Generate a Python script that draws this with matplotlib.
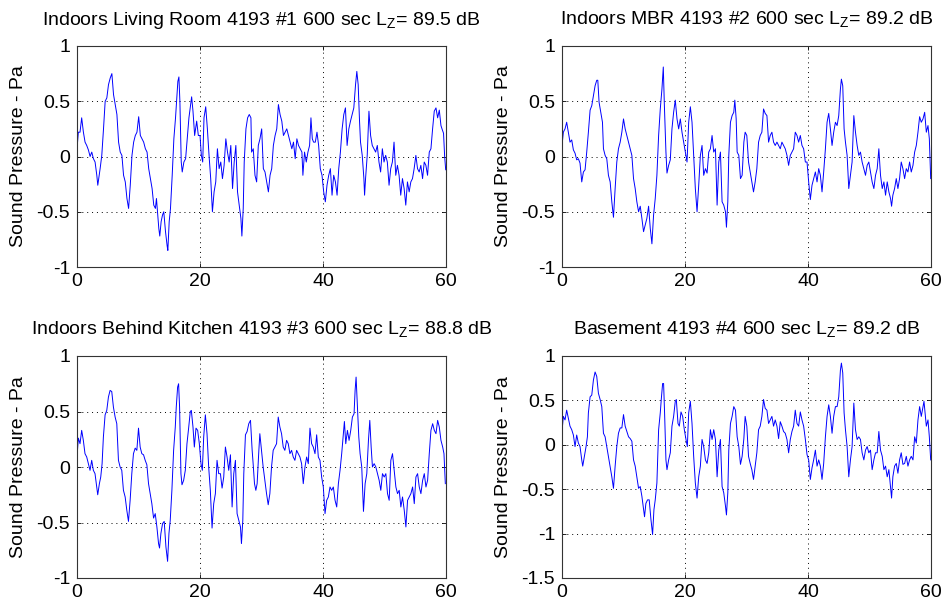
import matplotlib
matplotlib.use('Agg')
import matplotlib.pyplot as plt

plt.rcParams['font.family'] = ['Liberation Sans', 'DejaVu Sans']
plt.rcParams['axes.unicode_minus'] = False
plt.rcParams['mathtext.fontset'] = 'custom'
plt.rcParams['mathtext.rm'] = 'Liberation Sans'

# 标题
titles = [
    r'Indoors Living Room 4193 #1 600 sec L$_\mathregular{Z}$= 89.5 dB',
    r'Indoors MBR 4193 #2 600 sec L$_\mathregular{Z}$= 89.2 dB',
    r'Indoors Behind Kitchen 4193 #3 600 sec L$_\mathregular{Z}$= 88.8 dB',
    r'Basement 4193 #4 600 sec L$_\mathregular{Z}$= 89.2 dB',
]

# 面板1 数据 (时间 s, 声压 Pa), 读自原图
t1 = [0.00, 0.22, 0.49, 0.76, 1.04, 1.31, 1.58, 1.85, 2.13, 2.40, 2.67, 2.94, 3.22, 3.38, 3.76, 4.03,
      4.31, 4.58, 4.85, 5.12, 5.40, 5.67, 5.94, 6.21, 6.49, 6.76, 7.03, 7.30, 7.57, 7.85, 8.12, 8.39,
      8.66, 8.94, 9.21, 9.48, 9.75, 10.03, 10.30, 10.57, 10.84, 11.12, 11.39, 11.66, 11.93, 12.21,
      12.48, 12.75, 12.92, 13.13, 13.30, 13.46, 13.68, 13.90, 14.11, 14.39, 14.66, 14.77, 14.99,
      15.20, 15.48, 15.75, 16.02, 16.19, 16.40, 16.57, 16.73, 16.95, 17.11, 17.38, 17.66, 17.93,
      18.20, 18.47, 18.64, 18.86, 19.13, 19.46, 19.73, 20.00, 20.22, 20.44, 20.65, 20.93, 21.20,
      21.47, 21.74, 22.02, 22.29, 22.56, 22.83, 23.11, 23.38, 23.65, 23.92, 24.20, 24.47, 24.74,
      25.01, 25.29, 25.56, 25.83, 26.10, 26.38, 26.65, 26.81, 27.03, 27.19, 27.47, 27.74, 28.01,
      28.28, 28.39, 28.66, 28.94, 29.21, 29.48, 29.75, 30.03, 30.30, 30.57, 30.84, 31.12, 31.39,
      31.66, 31.93, 32.21, 32.48, 32.75, 33.02, 33.30, 33.57, 33.84, 34.11, 34.39, 34.66, 34.93,
      35.20, 35.48, 35.75, 36.02, 36.29, 36.57, 36.73, 37.00, 37.28, 37.55, 37.82, 38.04, 38.26,
      38.47, 38.75, 39.02, 39.29, 39.56, 39.84, 40.11, 40.38, 40.65, 40.93, 41.20, 41.47, 41.74,
      42.02, 42.29, 42.56, 42.83, 43.11, 43.38, 43.65, 43.92, 44.20, 44.47, 44.74, 45.01, 45.29,
      45.50, 45.72, 45.94, 46.10, 46.38, 46.65, 46.76, 46.92, 47.19, 47.47, 47.74, 48.01, 48.28,
      48.56, 48.83, 49.10, 49.37, 49.65, 49.92, 50.19, 50.46, 50.74, 51.01, 51.28, 51.55, 51.83,
      52.10, 52.37, 52.64, 52.92, 53.19, 53.46, 53.73, 54.01, 54.28, 54.55, 54.82, 55.10, 55.37,
      55.64, 55.91, 56.19, 56.46, 56.73, 57.00, 57.28, 57.55, 57.82, 58.09, 58.37, 58.64, 58.91,
      59.18, 59.35, 59.60, 59.78, 59.95]
p1 = [0.07, 0.22, 0.22, 0.35, 0.22, 0.13, 0.10, 0.06, 0.00, 0.04, -0.02, -0.05, -0.17, -0.26, -0.11, 0.01,
      0.25, 0.50, 0.53, 0.65, 0.71, 0.75, 0.56, 0.47, 0.38, 0.13, 0.04, 0.01, -0.17, -0.23, -0.38, -0.47,
      -0.26, 0.01, 0.13, 0.19, 0.22, 0.36, 0.19, 0.16, 0.13, 0.07, 0.04, -0.11, -0.20, -0.29,
      -0.44, -0.47, -0.38, -0.53, -0.65, -0.72, -0.59, -0.53, -0.50, -0.68, -0.81, -0.85, -0.59,
      -0.47, -0.17, 0.16, 0.35, 0.50, 0.68, 0.72, 0.50, -0.05, -0.14, -0.05, -0.02, 0.16,
      0.35, 0.47, 0.54, 0.41, 0.19, 0.32, 0.19, 0.19, 0.01, -0.05, 0.35, 0.45, 0.25,
      0.01, -0.20, -0.50, -0.32, -0.23, 0.07, -0.11, -0.05, -0.20, -0.08, 0.16, 0.04, -0.05,
      0.10, -0.29, -0.05, 0.10, -0.32, -0.44, -0.56, -0.72, -0.47, -0.05, 0.25, 0.35, 0.38,
      0.35, 0.04, 0.07, -0.17, -0.23, 0.10, 0.16, 0.25, -0.11, -0.14, -0.23, -0.32, -0.17,
      -0.11, 0.10, 0.19, 0.25, 0.47, 0.38, 0.32, 0.19, 0.22, 0.25, 0.19, 0.13, 0.07,
      0.13, -0.02, 0.16, 0.10, 0.07, 0.04, -0.17, 0.04, -0.05, 0.04, 0.10, 0.35, 0.16,
      0.13, 0.13, 0.22, 0.10, -0.11, -0.17, -0.32, -0.41, -0.26, -0.17, -0.11, -0.35, -0.17,
      -0.23, -0.35, -0.11, 0.04, 0.25, 0.38, 0.44, 0.10, 0.25, 0.32, 0.38, 0.44, 0.65,
      0.77, 0.65, 0.32, 0.13, 0.01, -0.20, -0.35, -0.20, 0.01, 0.41, 0.19, 0.10, 0.07,
      0.04, 0.10, -0.05, -0.14, 0.07, -0.05, 0.01, -0.05, -0.26, -0.11, -0.05, 0.13, -0.17,
      -0.08, -0.17, -0.35, -0.20, -0.29, -0.44, -0.23, -0.32, -0.23, -0.20, -0.11, 0.01, -0.11,
      -0.14, -0.08, -0.20, -0.05, -0.08, -0.17, 0.04, 0.07, 0.25, 0.41, 0.44, 0.35, 0.42,
      0.28, 0.25, 0.21, 0.00, -0.12]

# 面板2 数据
t2 = [0.00, 0.22, 0.49, 0.76, 1.03, 1.30, 1.58, 1.85, 2.12, 2.39, 2.66, 2.93, 3.21, 3.48, 3.75, 4.02,
      4.29, 4.57, 4.84, 5.11, 5.38, 5.65, 5.82, 6.03, 6.30, 6.58, 6.74, 7.01, 7.28, 7.55, 7.83, 8.10,
      8.37, 8.64, 8.91, 9.18, 9.46, 9.73, 10.00, 10.27, 10.54, 10.82, 11.09, 11.36, 11.63, 11.90,
      12.17, 12.45, 12.72, 12.99, 13.26, 13.53, 13.80, 14.08, 14.35, 14.62, 14.89, 15.16, 15.43,
      15.71, 15.98, 16.25, 16.47, 16.63, 16.90, 17.07, 17.34, 17.61, 17.88, 18.15, 18.42, 18.70,
      18.97, 19.24, 19.51, 19.78, 20.05, 20.33, 20.60, 20.87, 21.14, 21.41, 21.68, 21.96, 22.23,
      22.50, 22.77, 23.04, 23.32, 23.59, 23.86, 24.13, 24.40, 24.67, 24.95, 25.22, 25.49, 25.76,
      26.03, 26.30, 26.58, 26.74, 26.96, 27.12, 27.39, 27.66, 27.93, 28.10, 28.32, 28.48, 28.75,
      29.02, 29.29, 29.57, 29.78, 30.05, 30.33, 30.60, 30.87, 31.14, 31.41, 31.68, 31.96, 32.23,
      32.50, 32.77, 33.04, 33.32, 33.59, 33.86, 34.13, 34.40, 34.67, 34.95, 35.22, 35.49, 35.76,
      36.03, 36.30, 36.58, 36.85, 37.12, 37.39, 37.66, 37.93, 38.21, 38.48, 38.75, 39.02, 39.29,
      39.57, 39.84, 40.11, 40.38, 40.65, 40.92, 41.20, 41.47, 41.74, 42.01, 42.28, 42.55, 42.83,
      43.10, 43.37, 43.64, 43.91, 44.18, 44.46, 44.73, 45.00, 45.27, 45.43, 45.65, 45.87, 46.09,
      46.36, 46.63, 46.90, 47.17, 47.45, 47.72, 47.99, 48.26, 48.53, 48.80, 49.08, 49.35, 49.62,
      49.89, 50.16, 50.43, 50.71, 50.98, 51.25, 51.52, 51.79, 52.07, 52.34, 52.61, 52.88, 53.15,
      53.42, 53.59, 53.80, 54.08, 54.35, 54.62, 54.89, 55.16, 55.43, 55.71, 55.98, 56.25, 56.52,
      56.79, 57.07, 57.34, 57.61, 57.88, 58.15, 58.42, 58.70, 58.97, 59.24, 59.51, 59.73, 59.95]
p2 = [0.10, 0.22, 0.25, 0.31, 0.22, 0.13, 0.15, 0.06, 0.03, -0.03, -0.02, -0.06, -0.23, -0.14, -0.12, 0.04,
      0.22, 0.42, 0.46, 0.55, 0.64, 0.69, 0.69, 0.49, 0.40, 0.31, 0.07, 0.01, -0.02, -0.17, -0.23, -0.41,
      -0.55, -0.29, -0.05, 0.07, 0.13, 0.22, 0.34, 0.25, 0.19, 0.13, 0.07, 0.01, -0.20, -0.29,
      -0.41, -0.50, -0.45, -0.56, -0.68, -0.62, -0.56, -0.45, -0.65, -0.79, -0.53, -0.38, -0.17,
      0.19, 0.43, 0.61, 0.81, 0.49, 0.04, -0.15, -0.08, -0.03, 0.25, 0.40, 0.51, 0.34,
      0.25, 0.34, 0.22, 0.13, 0.04, -0.05, 0.31, 0.45, 0.31, 0.01, -0.29, -0.50, -0.26,
      0.01, 0.10, -0.17, -0.11, -0.15, 0.04, 0.07, 0.19, 0.04, 0.07, -0.44, -0.05, 0.04,
      -0.41, -0.44, -0.50, -0.64, -0.41, 0.01, 0.31, 0.37, 0.40, 0.51, 0.34, 0.04, 0.01,
      -0.20, -0.17, 0.13, 0.22, 0.19, -0.05, -0.14, -0.23, -0.32, -0.23, -0.11, 0.13, 0.19,
      0.22, 0.43, 0.39, 0.37, 0.13, 0.19, 0.22, 0.13, 0.10, 0.13, 0.10, 0.07, 0.13,
      0.10, 0.07, 0.01, -0.08, 0.01, 0.04, 0.07, 0.22, 0.19, 0.13, 0.19, 0.10, 0.07,
      -0.05, -0.05, -0.23, -0.39, -0.26, -0.20, -0.14, -0.23, -0.11, -0.17, -0.32, -0.14, 0.07,
      0.31, 0.39, 0.25, 0.10, 0.22, 0.31, 0.28, 0.37, 0.61, 0.70, 0.64, 0.25, 0.13,
      0.01, -0.29, -0.17, -0.05, 0.37, 0.22, 0.10, 0.01, 0.04, -0.05, -0.11, -0.17, -0.08,
      -0.05, -0.14, -0.23, -0.29, -0.17, -0.11, 0.07, -0.17, -0.29, -0.23, -0.35, -0.23, -0.32,
      -0.38, -0.45, -0.35, -0.29, -0.20, -0.29, -0.20, -0.05, -0.11, -0.20, -0.11, -0.14, -0.05,
      -0.14, -0.08, 0.04, 0.10, 0.22, 0.36, 0.31, 0.34, 0.40, 0.22, 0.28, 0.16, -0.20]

# 面板3 数据
t3 = [0.00, 0.22, 0.49, 0.76, 1.03, 1.30, 1.58, 1.85, 2.12, 2.39, 2.66, 2.93, 3.21, 3.37, 3.64, 3.86,
      4.08, 4.29, 4.57, 4.84, 5.11, 5.38, 5.65, 5.92, 6.20, 6.47, 6.74, 7.01, 7.28, 7.55, 7.83, 8.10,
      8.37, 8.64, 8.91, 9.18, 9.46, 9.73, 10.00, 10.27, 10.54, 10.82, 11.09, 11.36, 11.63, 11.90,
      12.17, 12.45, 12.72, 12.99, 13.26, 13.42, 13.64, 13.91, 14.18, 14.46, 14.73, 14.95, 15.16,
      15.43, 15.71, 15.98, 16.14, 16.36, 16.52, 16.68, 16.90, 17.07, 17.34, 17.61, 17.88, 18.15,
      18.42, 18.59, 18.86, 19.08, 19.35, 19.62, 19.89, 20.16, 20.38, 20.60, 20.87, 21.14, 21.41,
      21.68, 21.96, 22.23, 22.50, 22.77, 23.04, 23.32, 23.59, 23.86, 24.13, 24.40, 24.67, 24.95,
      25.22, 25.49, 25.76, 26.03, 26.30, 26.58, 26.74, 26.96, 27.12, 27.39, 27.66, 27.93, 28.21,
      28.48, 28.64, 28.86, 29.08, 29.29, 29.57, 29.73, 30.00, 30.27, 30.54, 30.82, 31.09, 31.36,
      31.63, 31.90, 32.17, 32.45, 32.72, 32.99, 33.26, 33.53, 33.80, 34.08, 34.35, 34.62, 34.89,
      35.16, 35.43, 35.71, 35.98, 36.25, 36.52, 36.79, 37.07, 37.34, 37.61, 37.88, 38.15, 38.42,
      38.70, 38.97, 39.24, 39.51, 39.78, 40.05, 40.33, 40.60, 40.87, 41.14, 41.41, 41.68, 41.96,
      42.23, 42.50, 42.77, 43.04, 43.32, 43.48, 43.70, 43.97, 44.24, 44.51, 44.78, 45.05, 45.22,
      45.38, 45.60, 45.82, 46.03, 46.30, 46.58, 46.85, 47.12, 47.39, 47.61, 47.83, 48.04, 48.32,
      48.59, 48.86, 49.13, 49.40, 49.67, 49.95, 50.22, 50.49, 50.76, 51.03, 51.30, 51.58, 51.85,
      52.12, 52.39, 52.66, 52.93, 53.21, 53.48, 53.75, 54.02, 54.29, 54.57, 54.84, 55.11, 55.38,
      55.65, 55.92, 56.20, 56.47, 56.74, 57.01, 57.28, 57.55, 57.83, 58.10, 58.37, 58.64, 58.91,
      59.18, 59.46, 59.67, 59.89]
p3 = [0.09, 0.26, 0.21, 0.33, 0.24, 0.12, 0.09, 0.03, -0.03, 0.06, -0.03, -0.06, -0.18, -0.25, -0.15, -0.09,
      0.03, 0.27, 0.47, 0.51, 0.63, 0.69, 0.68, 0.54, 0.45, 0.39, 0.06, 0.00, -0.03, -0.21, -0.27, -0.39,
      -0.49, -0.30, -0.06, 0.12, 0.17, 0.15, 0.35, 0.18, 0.12, 0.11, 0.06, 0.02, -0.15, -0.24,
      -0.33, -0.46, -0.42, -0.54, -0.69, -0.73, -0.60, -0.51, -0.49, -0.72, -0.85, -0.60, -0.48,
      -0.21, 0.15, 0.36, 0.54, 0.72, 0.75, 0.54, -0.06, -0.16, -0.12, -0.03, 0.21, 0.35,
      0.50, 0.51, 0.36, 0.18, 0.35, 0.33, 0.21, 0.03, -0.03, 0.27, 0.47, 0.30, 0.00,
      -0.21, -0.55, -0.33, -0.24, 0.06, -0.06, -0.06, -0.19, -0.09, 0.18, 0.09, -0.03, 0.11,
      -0.36, -0.06, 0.06, -0.42, -0.48, -0.54, -0.69, -0.48, -0.06, 0.29, 0.32, 0.39, 0.42,
      0.15, 0.03, -0.15, -0.21, -0.15, 0.15, 0.30, 0.15, 0.00, -0.12, -0.24, -0.34, -0.24,
      0.00, 0.15, 0.18, 0.21, 0.45, 0.36, 0.30, 0.18, 0.15, 0.24, 0.21, 0.12, 0.15,
      0.09, 0.06, 0.15, 0.12, 0.09, 0.03, -0.15, 0.00, 0.09, 0.03, 0.35, 0.21, 0.18,
      0.12, 0.29, 0.09, 0.06, -0.09, -0.18, -0.42, -0.30, -0.27, -0.18, -0.21, -0.18, -0.30,
      -0.36, -0.15, -0.03, 0.12, 0.30, 0.41, 0.21, 0.33, 0.24, 0.33, 0.45, 0.48, 0.69,
      0.81, 0.54, 0.27, 0.12, 0.00, -0.40, -0.15, -0.06, 0.24, 0.42, 0.18, 0.00, 0.03,
      0.00, -0.06, -0.12, -0.21, -0.06, -0.09, -0.06, -0.24, -0.30, 0.06, 0.12, -0.03, -0.18,
      -0.24, -0.21, -0.36, -0.27, -0.39, -0.54, -0.30, -0.27, -0.24, -0.18, -0.33, -0.09, -0.06,
      -0.18, -0.24, -0.12, -0.06, -0.18, -0.12, 0.12, 0.33, 0.39, 0.33, 0.30, 0.42, 0.36,
      0.24, 0.18, 0.12, -0.15]

# 面板4 数据
t4 = [0.00, 0.22, 0.49, 0.76, 1.03, 1.30, 1.58, 1.85, 2.12, 2.39, 2.66, 2.93, 3.21, 3.37, 3.64, 3.91,
      4.13, 4.29, 4.57, 4.84, 5.11, 5.38, 5.65, 5.92, 6.20, 6.47, 6.74, 7.01, 7.28, 7.55, 7.83, 8.10,
      8.37, 8.64, 8.91, 9.18, 9.46, 9.73, 10.00, 10.27, 10.54, 10.82, 11.09, 11.36, 11.63, 11.90,
      12.17, 12.45, 12.72, 12.99, 13.26, 13.42, 13.64, 13.91, 14.18, 14.46, 14.73, 14.95, 15.16,
      15.43, 15.71, 15.98, 16.14, 16.36, 16.52, 16.68, 16.90, 17.07, 17.34, 17.61, 17.88, 18.15,
      18.42, 18.59, 18.86, 19.08, 19.35, 19.62, 19.89, 20.16, 20.38, 20.60, 20.87, 21.14, 21.41,
      21.68, 21.96, 22.23, 22.50, 22.77, 23.04, 23.32, 23.59, 23.86, 24.13, 24.40, 24.67, 24.95,
      25.22, 25.49, 25.76, 26.03, 26.30, 26.58, 26.74, 26.96, 27.12, 27.39, 27.66, 27.93, 28.21,
      28.48, 28.75, 29.02, 29.29, 29.57, 29.78, 30.05, 30.33, 30.60, 30.87, 31.14, 31.41, 31.68,
      31.96, 32.23, 32.50, 32.77, 33.04, 33.32, 33.59, 33.86, 34.13, 34.40, 34.67, 34.95, 35.22,
      35.49, 35.76, 36.03, 36.30, 36.58, 36.85, 37.12, 37.39, 37.66, 37.93, 38.21, 38.48, 38.75,
      39.02, 39.29, 39.57, 39.84, 40.11, 40.38, 40.65, 40.92, 41.20, 41.47, 41.74, 42.01, 42.28,
      42.55, 42.83, 43.10, 43.37, 43.64, 43.91, 44.18, 44.46, 44.73, 45.00, 45.27, 45.43, 45.65,
      45.87, 46.09, 46.36, 46.63, 46.90, 47.17, 47.45, 47.72, 47.99, 48.26, 48.53, 48.80, 49.08,
      49.35, 49.62, 49.89, 50.16, 50.43, 50.71, 50.98, 51.25, 51.52, 51.79, 52.07, 52.34, 52.61,
      52.88, 53.15, 53.42, 53.59, 53.80, 54.08, 54.35, 54.62, 54.89, 55.16, 55.43, 55.71, 55.98,
      56.25, 56.52, 56.79, 57.07, 57.34, 57.61, 57.88, 58.15, 58.42, 58.86, 59.24, 59.51, 59.73,
      59.95]
p4 = [0.15, 0.32, 0.28, 0.39, 0.30, 0.21, 0.17, 0.11, -0.02, 0.11, 0.02, -0.02, -0.17, -0.24, -0.13, -0.02,
      0.09, 0.36, 0.54, 0.56, 0.73, 0.82, 0.77, 0.58, 0.51, 0.43, 0.13, 0.09, -0.02, -0.13, -0.24, -0.36,
      -0.49, -0.24, -0.02, 0.13, 0.19, 0.19, 0.34, 0.21, 0.15, 0.09, 0.07, 0.04, -0.17, -0.24,
      -0.36, -0.49, -0.47, -0.58, -0.73, -0.81, -0.66, -0.62, -0.62, -0.84, -1.01, -0.73, -0.62,
      -0.43, 0.17, 0.36, 0.51, 0.69, 0.69, 0.36, -0.17, -0.28, -0.17, -0.09, 0.21, 0.32,
      0.49, 0.51, 0.24, 0.21, 0.37, 0.32, 0.17, 0.06, -0.02, 0.36, 0.49, 0.24, -0.13,
      -0.43, -0.60, -0.36, -0.24, 0.06, -0.02, -0.17, -0.21, -0.09, 0.17, 0.06, 0.17, 0.06,
      -0.36, -0.06, 0.06, -0.47, -0.54, -0.69, -0.79, -0.54, -0.06, 0.24, 0.32, 0.43, 0.39,
      0.09, -0.02, -0.22, -0.13, 0.07, 0.32, 0.21, -0.13, -0.21, -0.28, -0.39, -0.24, -0.09,
      0.17, 0.21, 0.32, 0.51, 0.41, 0.39, 0.24, 0.28, 0.32, 0.21, 0.28, 0.21, 0.07,
      0.26, 0.21, 0.15, 0.13, 0.06, -0.09, 0.06, 0.15, 0.21, 0.39, 0.24, 0.21, 0.37,
      0.28, 0.21, 0.06, -0.11, -0.17, -0.39, -0.26, -0.17, -0.06, -0.24, -0.17, -0.24, -0.39,
      -0.21, 0.09, 0.32, 0.45, 0.32, 0.13, 0.32, 0.43, 0.43, 0.54, 0.84, 0.92, 0.81,
      0.36, 0.17, -0.02, -0.36, -0.17, -0.02, 0.47, 0.17, 0.06, 0.09, 0.06, -0.09, -0.17,
      -0.06, -0.02, -0.09, -0.06, -0.28, -0.17, -0.09, -0.09, 0.15, -0.06, -0.13, -0.28, -0.24,
      -0.36, -0.28, -0.47, -0.60, -0.36, -0.24, -0.21, -0.32, -0.17, -0.09, -0.22, -0.21, -0.13,
      -0.24, -0.17, -0.13, -0.17, 0.09, 0.02, 0.28, 0.43, 0.32, 0.49, 0.21, 0.28, 0.09,
      -0.17]

times = [t1, t2, t3, t4]
pressures = [p1, p2, p3, p4]
yticks_std = [-1, -0.5, 0, 0.5, 1]
yticks_basement = [-1.5, -1, -0.5, 0, 0.5, 1]
xticks = [0, 20, 40, 60]

fig = plt.figure(figsize=(9.43, 6.07), dpi=100)
W, H = 943.0, 607.0
# 像素位置 (左, 上, 右, 下)
boxes = [(77, 46, 446, 267), (562, 46, 931, 267),
         (77, 356, 446, 578), (562, 356, 931, 578)]

for i in range(4):
    l, tp, r, b = boxes[i]
    ax = fig.add_axes([l / W, 1 - b / H, (r - l) / W, (b - tp) / H])
    ax.plot(times[i], pressures[i], color=(0, 0, 1), linewidth=0.7)
    ax.set_xlim(0, 60)
    yt = yticks_basement if i == 3 else yticks_std
    ax.set_ylim(yt[0], yt[-1])
    ax.set_xticks(xticks)
    ax.set_xticklabels([str(v) for v in xticks])
    ax.set_yticks(yt)
    ax.set_yticklabels(['%g' % v for v in yt])
    ax.tick_params(direction='in', length=3, width=0.6, top=True, right=True,
                   labelsize=14, colors='k')
    ax.tick_params(axis='x', pad=4)
    ax.tick_params(axis='y', pad=5)
    ax.grid(True, color='k', linestyle=(0, (1, 4)), linewidth=0.7)
    for s in ax.spines.values():
        s.set_linewidth(0.8)
        s.set_color('#333333')
    ax.set_title(titles[i], fontsize=14, pad=15)
    ax.set_ylabel('Sound Pressure - Pa', fontsize=14, labelpad=7)

fig.savefig('out.png', dpi=100)
